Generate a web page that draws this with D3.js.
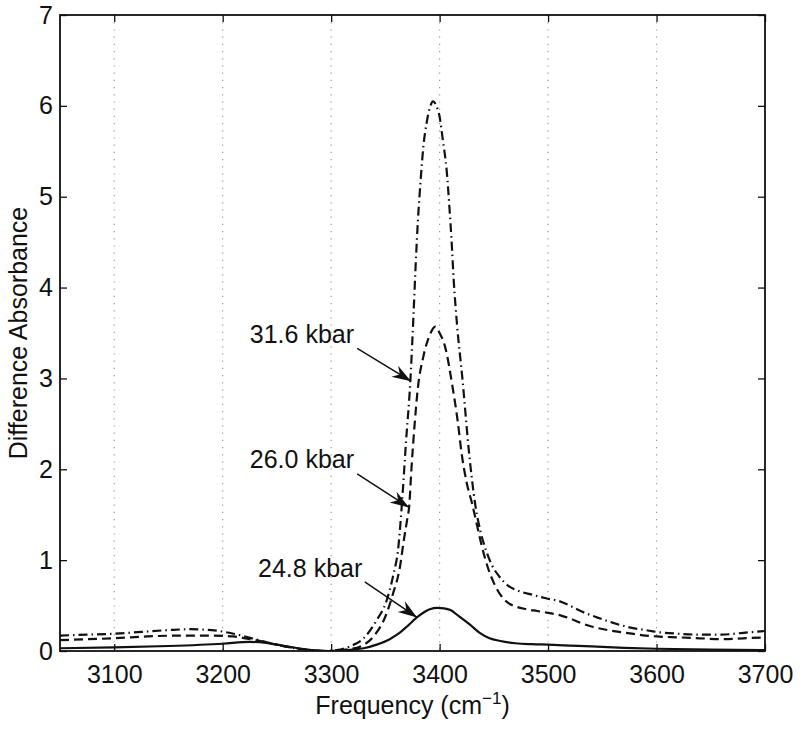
<!DOCTYPE html>
<html>
<head>
<meta charset="utf-8">
<script src="https://cdn.jsdelivr.net/npm/d3@7"></script>
<style>
    body { margin: 0; background: #fff; }
    text { font-family: "Liberation Sans", Arial, Helvetica, sans-serif; fill: #111; }
</style>
</head>
<body>
<script>
//tick values
var xTicks = [3100, 3200, 3300, 3400, 3500, 3600, 3700];
var yTicks = [0, 1, 2, 3, 4, 5, 6, 7];

//31.6 kbar spectrum (dash-dot)
var freq316 = [3050, 3075, 3100, 3125, 3150, 3170, 3190, 3210, 3230, 3250, 3270, 3285, 3295, 3305, 3317, 3330, 3342, 3351, 3357, 3362, 3365, 3369, 3373, 3376, 3378, 3380, 3382.5, 3385, 3388, 3391, 3394, 3397, 3400, 3403, 3406.5, 3409, 3411, 3413, 3416, 3421, 3427, 3433, 3438, 3443, 3448, 3455, 3463, 3471, 3485, 3498, 3510, 3520, 3530, 3545, 3560, 3575, 3590, 3600, 3620, 3640, 3660, 3680, 3700];
var abs316 = [0.17, 0.18, 0.19, 0.21, 0.23, 0.24, 0.23, 0.19, 0.13, 0.07, 0.025, 0.005, 0.0, 0.01, 0.05, 0.14, 0.34, 0.55, 0.82, 1.15, 1.58, 2.3, 2.97, 3.72, 4.27, 4.74, 5.18, 5.55, 5.81, 5.98, 6.05, 6.0, 5.88, 5.62, 5.29, 4.89, 4.52, 4.08, 3.6, 3.0, 2.2, 1.6, 1.3, 1.1, 0.95, 0.82, 0.72, 0.67, 0.62, 0.58, 0.55, 0.5, 0.44, 0.37, 0.31, 0.26, 0.23, 0.21, 0.19, 0.18, 0.18, 0.2, 0.22];

//26.0 kbar spectrum (dashed)
var freq260 = [3050, 3075, 3100, 3130, 3160, 3190, 3210, 3230, 3250, 3270, 3285, 3295, 3305, 3316, 3327, 3339, 3350, 3357, 3363.5, 3367, 3370, 3372, 3374, 3377, 3380, 3385, 3391, 3396, 3400, 3405, 3412, 3417, 3420, 3425, 3430, 3434, 3439, 3445, 3450, 3456, 3462, 3470, 3480, 3490, 3500, 3512, 3520, 3530, 3540, 3555, 3572, 3590, 3600, 3620, 3640, 3660, 3680, 3700];
var abs260 = [0.12, 0.13, 0.14, 0.16, 0.17, 0.17, 0.16, 0.12, 0.07, 0.025, 0.005, 0.0, 0.005, 0.02, 0.05, 0.16, 0.38, 0.63, 0.93, 1.22, 1.44, 1.6, 2.0, 2.5, 2.9, 3.24, 3.48, 3.57, 3.5, 3.35, 2.9, 2.5, 2.2, 1.85, 1.62, 1.41, 1.15, 0.9, 0.75, 0.62, 0.54, 0.49, 0.46, 0.44, 0.42, 0.39, 0.36, 0.31, 0.27, 0.23, 0.2, 0.17, 0.16, 0.15, 0.14, 0.13, 0.14, 0.15];

//24.8 kbar spectrum (solid)
var freq248 = [3050, 3100, 3150, 3200, 3225, 3240, 3255, 3270, 3285, 3298, 3310, 3320, 3330, 3342, 3354, 3362, 3370, 3379, 3386, 3391, 3398, 3404, 3410, 3418, 3428, 3437, 3446, 3456, 3470, 3485, 3500, 3520, 3540, 3570, 3600, 3650, 3700];
var abs248 = [0.03, 0.04, 0.055, 0.08, 0.1, 0.09, 0.06, 0.03, 0.008, 0.0, 0.005, 0.015, 0.03, 0.07, 0.13, 0.19, 0.27, 0.37, 0.43, 0.46, 0.475, 0.47, 0.45, 0.38, 0.29, 0.2, 0.14, 0.11, 0.085, 0.075, 0.07, 0.06, 0.05, 0.035, 0.025, 0.015, 0.01];

//annotation labels
var labels = ["31.6 kbar", "26.0 kbar", "24.8 kbar"];

window.onload = drawChart();

function drawChart(){

    var width = 800,
        height = 730,
        left = 60,
        right = 765,
        top = 15,
        bottom = 651;

    var svg = d3.select("body")
        .append("svg")
        .attr("width", width)
        .attr("height", height);

    var x = d3.scaleLinear().domain([3050, 3700]).range([left, right]);
    var y = d3.scaleLinear().domain([0, 7]).range([bottom, top]);

    //clip curves to the axes box
    svg.append("clipPath")
        .attr("id", "plotClip")
        .append("rect")
        .attr("x", left).attr("y", top)
        .attr("width", right - left).attr("height", bottom - top);

    //dotted vertical grid lines
    svg.selectAll(".grid")
        .data(xTicks.filter(function(d){ return d < 3700; }))
        .enter()
        .append("line")
        .attr("class", "grid")
        .attr("x1", function(d){ return x(d); })
        .attr("x2", function(d){ return x(d); })
        .attr("y1", top)
        .attr("y2", bottom)
        .attr("stroke", "#9a9a9a")
        .attr("stroke-width", 1.2)
        .attr("stroke-dasharray", "1.2,6");

    //curves
    var series = [
        {f: freq316, a: abs316, dash: "9,4,1.5,4"},
        {f: freq260, a: abs260, dash: "9,5"},
        {f: freq248, a: abs248, dash: null}
    ];

    var line = d3.line()
        .x(function(d){ return x(d[0]); })
        .y(function(d){ return y(d[1]); })
        .curve(d3.curveMonotoneX);

    svg.selectAll(".spectrum")
        .data(series)
        .enter()
        .append("path")
        .attr("class", "spectrum")
        .attr("clip-path", "url(#plotClip)")
        .attr("d", function(s){ return line(d3.zip(s.f, s.a)); })
        .attr("fill", "none")
        .attr("stroke", "#111")
        .attr("stroke-width", 2.2)
        .attr("stroke-dasharray", function(s){ return s.dash; });

    //axes with inward ticks on all four sides
    var tickLen = 7,
        fmt = d3.format("d");
    svg.append("g")
        .attr("transform", "translate(0," + bottom + ")")
        .call(d3.axisBottom(x).tickValues(xTicks).tickFormat(fmt).tickSizeInner(-tickLen).tickSizeOuter(0).tickPadding(14))
        .call(styleAxis);
    svg.append("g")
        .attr("transform", "translate(0," + top + ")")
        .call(d3.axisTop(x).tickValues(xTicks).tickSizeInner(-tickLen).tickSizeOuter(0).tickFormat(""))
        .call(styleAxis);
    svg.append("g")
        .attr("transform", "translate(" + left + ",0)")
        .call(d3.axisLeft(y).tickValues(yTicks).tickFormat(fmt).tickSizeInner(-tickLen).tickSizeOuter(0).tickPadding(7))
        .call(styleAxis);
    svg.append("g")
        .attr("transform", "translate(" + right + ",0)")
        .call(d3.axisRight(y).tickValues(yTicks).tickSizeInner(-tickLen).tickSizeOuter(0).tickFormat(""))
        .call(styleAxis);

    //box
    svg.append("rect")
        .attr("x", left).attr("y", top)
        .attr("width", right - left).attr("height", bottom - top)
        .attr("fill", "none")
        .attr("stroke", "#111")
        .attr("stroke-width", 1.8);

    function styleAxis(g){
        g.select(".domain").remove();
        g.selectAll(".tick line").attr("stroke", "#111").attr("stroke-width", 1.3);
        g.selectAll(".tick text")
            .style("font-size", "25px")
            .attr("fill", "#111");
    }

    //axis titles
    var xTitle = svg.append("text")
        .attr("x", (left + right) / 2)
        .attr("y", 714)
        .attr("text-anchor", "middle")
        .style("font-size", "25px");
    xTitle.append("tspan").text("Frequency (cm");
    xTitle.append("tspan").attr("dy", -10).style("font-size", "17px").text("\u22121");
    xTitle.append("tspan").attr("dy", 10).text(")");

    svg.append("text")
        .attr("transform", "translate(27," + ((top + bottom) / 2) + ") rotate(-90)")
        .attr("text-anchor", "middle")
        .style("font-size", "25px")
        .text("Difference Absorbance");

    //annotations: text start, arrow tail and arrow tip in data units
    var notes = [
        {text: labels[0], tx: 3225, ty: 3.39, x0: 3324, y0: 3.33, x1: 3373.6, y1: 2.97},
        {text: labels[1], tx: 3225, ty: 2.01, x0: 3324, y0: 1.95, x1: 3371.8, y1: 1.58},
        {text: labels[2], tx: 3232.6, ty: 0.81, x0: 3331, y0: 0.76, x1: 3379.2, y1: 0.37}
    ];

    var notesG = svg.selectAll(".note")
        .data(notes)
        .enter()
        .append("g")
        .attr("class", "note");

    notesG.append("text")
        .attr("x", function(d){ return x(d.tx); })
        .attr("y", function(d){ return y(d.ty); })
        .style("font-size", "25px")
        .text(function(d){ return d.text; });

    notesG.append("line")
        .attr("x1", function(d){ return x(d.x0); })
        .attr("y1", function(d){ return y(d.y0); })
        .attr("x2", function(d){ return x(d.x1); })
        .attr("y2", function(d){ return y(d.y1); })
        .attr("stroke", "#111")
        .attr("stroke-width", 1.5);

    //filled arrow heads
    notesG.append("path")
        .attr("fill", "#111")
        .attr("d", function(d){
            var px = x(d.x1), py = y(d.y1);
            var ang = Math.atan2(py - y(d.y0), px - x(d.x0));
            var len = 19, half = 6.5, back = 13;
            var ux = Math.cos(ang), uy = Math.sin(ang);
            var bx = px - ux * len, by = py - uy * len;
            var nx = px - ux * back, ny = py - uy * back;
            return "M" + px + "," + py +
                "L" + (bx - uy * half) + "," + (by + ux * half) +
                "L" + nx + "," + ny +
                "L" + (bx + uy * half) + "," + (by - ux * half) + "Z";
        });
}
</script>
</body>
</html>
